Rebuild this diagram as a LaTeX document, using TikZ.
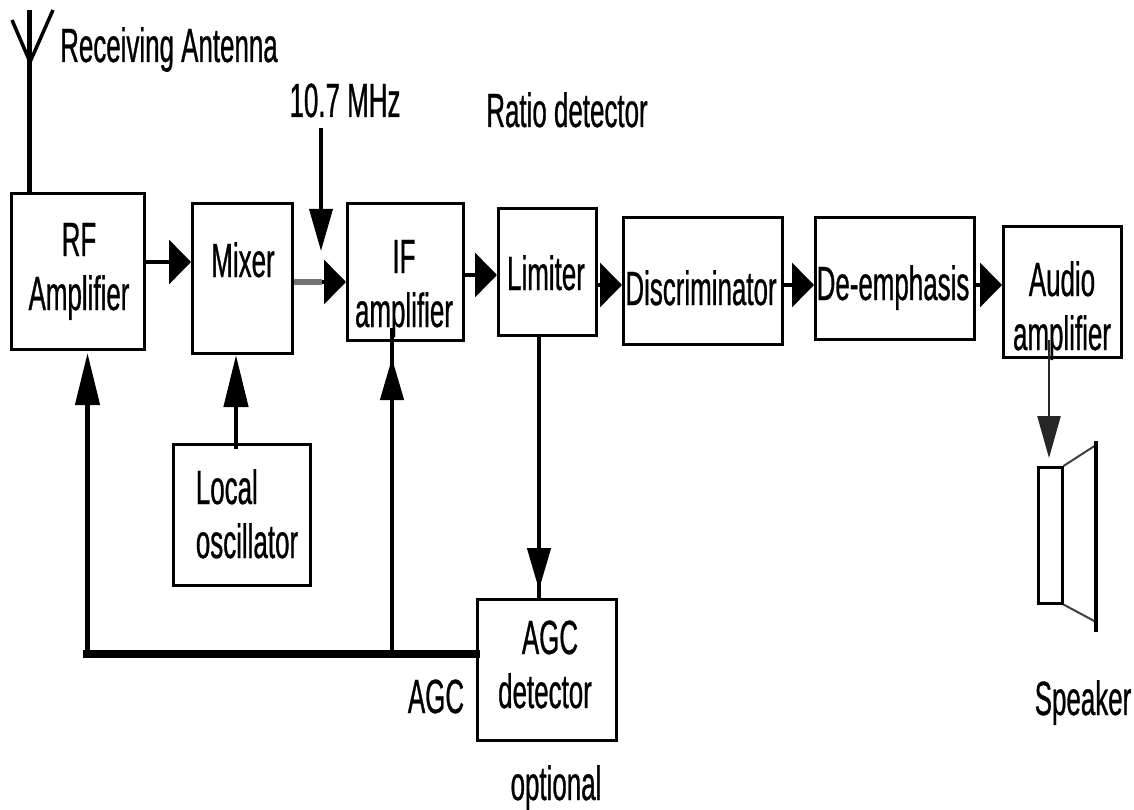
\documentclass[tikz,border=0pt]{standalone}
\usepackage{fontspec}
\setmainfont[FakeStretch=0.54,FakeBold=0.6]{Liberation Sans}
\usetikzlibrary{arrows.meta}
\tikzset{
 blockbox/.style={draw=black,line width=3pt,fill=white,inner sep=0pt,anchor=north west},
 lbl/.style={inner sep=0pt,anchor=base,align=center,font=\fontsize{48}{54}\selectfont},
 wire/.style={line width=4.5pt,draw=black},
 hwire/.style={line width=3.5pt,draw=black},
 thinwire/.style={line width=2pt,draw=black},
 heavywire/.style={line width=8.5pt,draw=black},
 tiph/.style={-{Triangle[length=22pt,width=44pt]}},
 tipv/.style={-{Triangle[length=42pt,width=23pt]}},
 tipvl/.style={-{Triangle[length=52pt,width=24pt]}},
}
\begin{document}
\begin{tikzpicture}[x=1pt,y=-1pt]
\useasboundingbox (0,0) rectangle (1134,810);
\fill[white] (0,0) rectangle (1134,810);
\node[blockbox,minimum width=133pt,minimum height=156pt] (rf) at (10,192) {};
\node[blockbox,minimum width=100pt,minimum height=150pt] (mix) at (191,202) {};
\node[blockbox,minimum width=116pt,minimum height=137pt] (ifa) at (346,202) {};
\node[blockbox,minimum width=98pt,minimum height=127pt] (lim) at (497,207) {};
\node[blockbox,minimum width=159pt,minimum height=127pt] (dis) at (622,216) {};
\node[blockbox,minimum width=159pt,minimum height=122pt] (dee) at (814,216) {};
\node[blockbox,minimum width=118pt,minimum height=131pt] (aud) at (1002,225) {};
\node[blockbox,minimum width=137pt,minimum height=141pt] (lo) at (172,443) {};
\node[blockbox,minimum width=139pt,minimum height=141pt] (agc) at (476,598) {};
% labels
\node[lbl] (trf) at (79,310) {RF\\Amplifier};
\node[lbl] (tmix) at (243,277) {Mixer};
\node[lbl] (tif) at (404,327) {IF\\amplifier};
\node[lbl] (tlim) at (546,290) {Limiter};
\node[lbl] (tdis) at (701,305) {Discriminator};
\node[lbl] (tdee) at (893,300) {De-emphasis};
\node[lbl] (taud) at (1062,350) {Audio\\amplifier};
\node[lbl,align=left] (tlo) at (247,558) {Local\\oscillator};
\node[lbl] (tagc) at (545,708) {\hspace*{10pt}AGC\\detector};
\node[lbl] (tant) at (169,62) {Receiving Antenna};
\node[lbl] (tmhz) at (345,117) {10.7 MHz};
\node[lbl] (trat) at (567,127) {Ratio detector};
\node[lbl] (tagcl) at (436,713) {AGC};
\node[lbl] (topt) at (556,800) {optional};
\node[lbl] (tspk) at (1083,715) {Speaker};
% antenna
\coordinate (ant0) at (30,62);
\coordinate (antL) at (12,20);
\coordinate (antR) at (53,10);
\coordinate (antT) at (29.5,10);
\draw[hwire] (antL) -- (ant0) -- (antR);
\draw[wire] (antT) -- (rf.north -| antT);
% chain
\draw[hwire,tiph] (rf.east |- 0,262) -- (mix.west |- 0,262);
\coordinate (mxout) at (322,282);
\draw[line width=6pt,draw=black!55] (mix.east |- mxout) -- (mxout);
\draw[hwire,tiph] (mxout) -- (ifa.west |- mxout);
\coordinate (mhzt) at (321,128);
\coordinate (mhzb) at (321,251);
\draw[hwire,tipv] (mhzt) -- (mhzb);
\draw[hwire,tiph] (ifa.east |- 0,275) -- (lim.west |- 0,275);
\draw[hwire,tiph] (lim.east |- 0,285) -- (dis.west |- 0,285);
\draw[hwire,tiph] (dis.east |- 0,285) -- (dee.west |- 0,285);
\draw[hwire,tiph] (dee.east |- 0,285) -- (aud.west |- 0,285);
% feedback
\coordinate (lotop) at (236,449);
\draw[wire,tipvl] (lotop) -- (mix.south -| lotop);
\draw[wire] (lim.south -| 539,0) -- (agc.north -| 539,0);
\draw[wire,tipv,shorten >=8pt] (lim.south -| 539,0) -- (agc.north -| 539,0);
\coordinate (corner) at (87.5,654);
\coordinate (join) at (392,654);
\coordinate (ifstub) at (392,328);
\draw[heavywire,line cap=rect] (agc.west |- corner) -- (corner);
\draw[wire,tipvl,shorten >=2pt] (corner) -- (rf.south -| corner);
\draw[wire] (join) -- (ifstub);
\draw[wire,tipv,shorten >=16pt] (join) -- (ifa.south -| join);
% speaker
\node[draw=black,line width=2.5pt,minimum width=24pt,minimum height=136pt,inner sep=0pt,anchor=north west] (spk) at (1037,466) {};
\coordinate (h1) at (1096,441);
\coordinate (h2) at (1096,632);
\coordinate (h1a) at (1096,445);
\coordinate (h2a) at (1096,622);
\coordinate (audin) at (1049,340);
\draw[line width=2pt,draw=black!75] (spk.north east) -- (h1a);
\draw[line width=2pt,draw=black!75] (spk.south east) -- (h2a);
\draw[line width=4.5pt] (h1) -- (h2);
\draw[line width=2.5pt,draw=black!85,tipv,shorten >=8pt] (audin) -- (spk.north -| audin);
\end{tikzpicture}
\end{document}
